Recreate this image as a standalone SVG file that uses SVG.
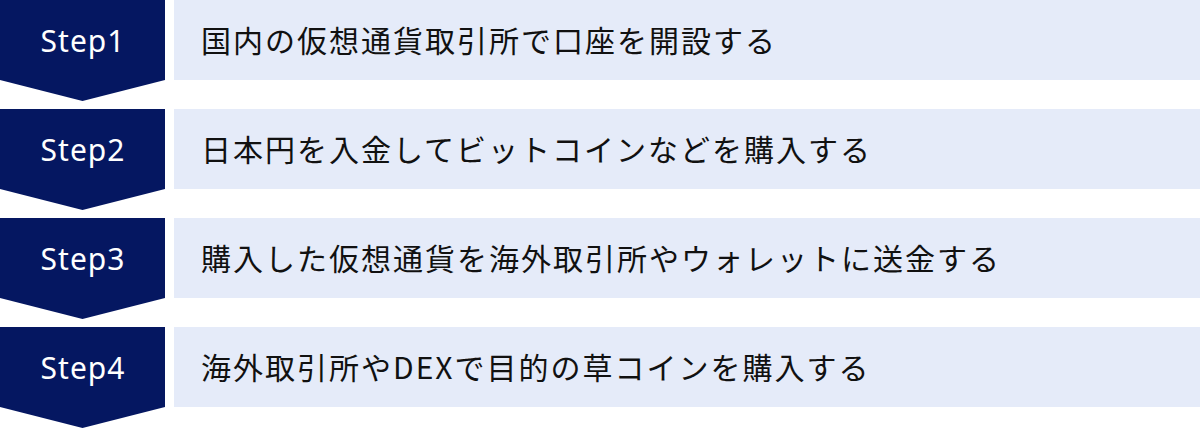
<svg xmlns="http://www.w3.org/2000/svg" width="1200" height="429" viewBox="0 0 1200 429">
<style>
.badge{fill:#051761}
.bar{fill:#E5EBF9}
.step{font-family:"Noto Sans","DejaVu Sans",sans-serif;font-size:30px;fill:#ffffff;letter-spacing:1px;text-anchor:middle}
.desc{font-family:"Noto Sans CJK JP","Noto Sans",sans-serif;font-size:30px;fill:#111111;letter-spacing:2px}
</style>
<rect width="1200" height="429" fill="#ffffff"/>
<g id="step1">
<polygon class="badge" points="0,0 165,0 165,80 82.5,101 0,80"/>
<rect class="bar" x="174" y="0" width="1026" height="80"/>
<text class="step" x="83" y="52">Step1</text>
<text class="desc" x="201" y="51.5">国内の仮想通貨取引所で口座を開設する</text>
</g>
<g id="step2">
<polygon class="badge" points="0,109 165,109 165,189 82.5,210 0,189"/>
<rect class="bar" x="174" y="109" width="1026" height="80"/>
<text class="step" x="83" y="161">Step2</text>
<text class="desc" x="201" y="160.5">日本円を入金してビットコインなどを購入する</text>
</g>
<g id="step3">
<polygon class="badge" points="0,218 165,218 165,298 82.5,319 0,298"/>
<rect class="bar" x="174" y="218" width="1026" height="80"/>
<text class="step" x="83" y="270">Step3</text>
<text class="desc" x="201" y="269.5">購入した仮想通貨を海外取引所やウォレットに送金する</text>
</g>
<g id="step4">
<polygon class="badge" points="0,327 165,327 165,407 82.5,428 0,407"/>
<rect class="bar" x="174" y="327" width="1026" height="80"/>
<text class="step" x="83" y="379">Step4</text>
<text class="desc" x="201" y="378.5">海外取引所やDEXで目的の草コインを購入する</text>
</g>
<g id="connectors"></g>
</svg>
